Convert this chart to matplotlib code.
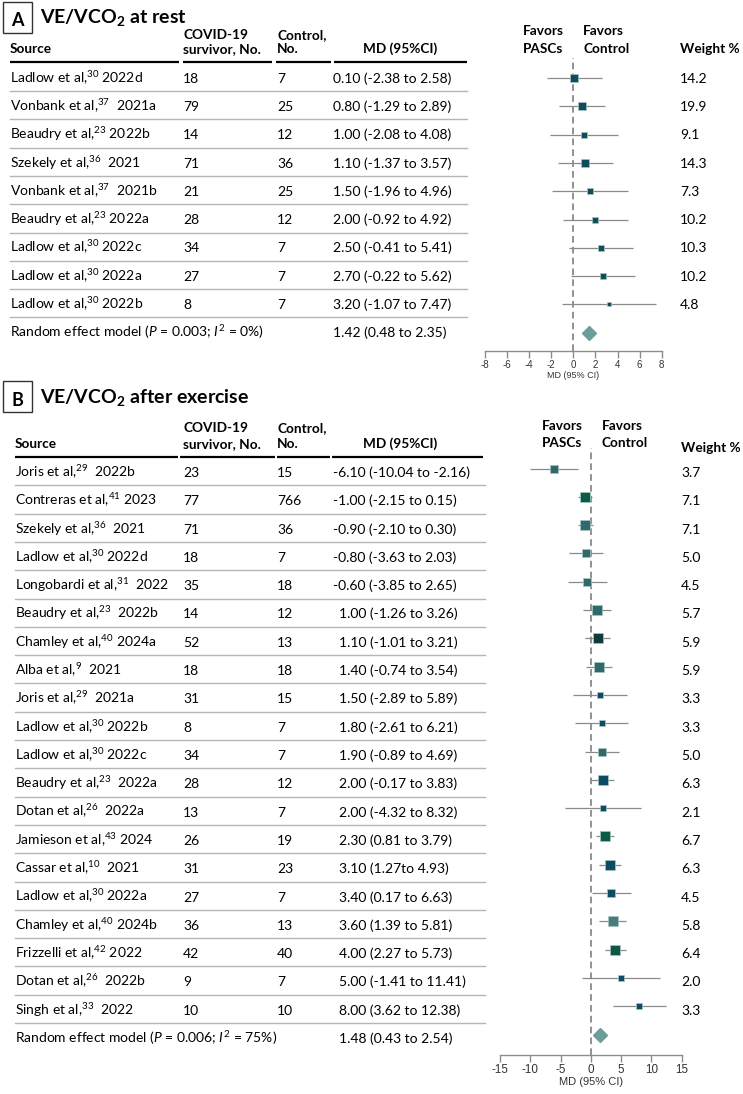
import numpy as np
import matplotlib
matplotlib.use("Agg")
import matplotlib.pyplot as plt
from matplotlib.patches import Rectangle

plt.rcParams['font.family'] = ['Lato', 'DejaVu Sans']
plt.rcParams['mathtext.fontset'] = 'custom'
plt.rcParams['mathtext.rm'] = 'Lato'
plt.rcParams['mathtext.it'] = 'Lato:italic'
plt.rcParams['mathtext.bf'] = 'Lato:bold'
plt.rcParams['mathtext.default'] = 'regular'

# ---------------- Panel A data ----------------
src_A = ["Ladlow et al,$^{30}$ 2022d", "Vonbank et al,$^{37}$  2021a", "Beaudry et al,$^{23}$ 2022b",
         "Szekely et al,$^{36}$  2021", "Vonbank et al,$^{37}$  2021b", "Beaudry et al,$^{23}$ 2022a",
         "Ladlow et al,$^{30}$ 2022c", "Ladlow et al,$^{30}$ 2022a", "Ladlow et al,$^{30}$ 2022b"]
covid_A = [18, 79, 14, 71, 21, 28, 34, 27, 8]
ctrl_A = [7, 25, 12, 36, 25, 12, 7, 7, 7]
md_A = [0.10, 0.80, 1.00, 1.10, 1.50, 2.00, 2.50, 2.70, 3.20]
lo_A = [-2.38, -1.29, -2.08, -1.37, -1.96, -0.92, -0.41, -0.22, -1.07]
hi_A = [2.58, 2.89, 4.08, 3.57, 4.96, 4.92, 5.41, 5.62, 7.47]
w_A = [14.2, 19.9, 9.1, 14.3, 7.3, 10.2, 10.3, 10.2, 4.8]
pool_A = (1.42, 0.48, 2.35)
pool_label_A = r"Random effect model ($\mathit{P}$ = 0.003; $\mathit{I}^{2}$ = 0%)"

# ---------------- Panel B data ----------------
src_B = ["Joris et al,$^{29}$  2022b", "Contreras et al,$^{41}$ 2023", "Szekely et al,$^{36}$  2021",
         "Ladlow et al,$^{30}$ 2022d", "Longobardi et al,$^{31}$  2022", "Beaudry et al,$^{23}$  2022b",
         "Chamley et al,$^{40}$ 2024a", "Alba et al,$^{9}$  2021", "Joris et al,$^{29}$  2021a",
         "Ladlow et al,$^{30}$ 2022b", "Ladlow et al,$^{30}$ 2022c", "Beaudry et al,$^{23}$  2022a",
         "Dotan et al,$^{26}$  2022a", "Jamieson et al,$^{43}$ 2024", "Cassar et al,$^{10}$  2021",
         "Ladlow et al,$^{30}$ 2022a", "Chamley et al,$^{40}$ 2024b", "Frizzelli et al,$^{42}$ 2022",
         "Dotan et al,$^{26}$  2022b", "Singh et al,$^{33}$  2022"]
covid_B = [23, 77, 71, 18, 35, 14, 52, 18, 31, 8, 34, 28, 13, 26, 31, 27, 36, 42, 9, 10]
ctrl_B = [15, 766, 36, 7, 18, 12, 13, 18, 15, 7, 7, 12, 7, 19, 23, 7, 13, 40, 7, 10]
md_B = [-6.10, -1.00, -0.90, -0.80, -0.60, 1.00, 1.10, 1.40, 1.50, 1.80,
        1.90, 2.00, 2.00, 2.30, 3.10, 3.40, 3.60, 4.00, 5.00, 8.00]
lo_B = [-10.04, -2.15, -2.10, -3.63, -3.85, -1.26, -1.01, -0.74, -2.89, -2.61,
        -0.89, -0.17, -4.32, 0.81, 1.27, 0.17, 1.39, 2.27, -1.41, 3.62]
hi_B = [-2.16, 0.15, 0.30, 2.03, 2.65, 3.26, 3.21, 3.54, 5.89, 6.21,
        4.69, 3.83, 8.32, 3.79, 4.93, 6.63, 5.81, 5.73, 11.41, 12.38]
w_B = [3.7, 7.1, 7.1, 5.0, 4.5, 5.7, 5.9, 5.9, 3.3, 3.3,
       5.0, 6.3, 2.1, 6.7, 6.3, 4.5, 5.8, 6.4, 2.0, 3.3]
ci_text_B = ["-6.10 (-10.04 to -2.16)", "-1.00 (-2.15 to 0.15)", "-0.90 (-2.10 to 0.30)",
             "-0.80 (-3.63 to 2.03)", "-0.60 (-3.85 to 2.65)", "1.00 (-1.26 to 3.26)",
             "1.10 (-1.01 to 3.21)", "1.40 (-0.74 to 3.54)", "1.50 (-2.89 to 5.89)",
             "1.80 (-2.61 to 6.21)", "1.90 (-0.89 to 4.69)", "2.00 (-0.17 to 3.83)",
             "2.00 (-4.32 to 8.32)", "2.30 (0.81 to 3.79)", "3.10 (1.27to 4.93)",
             "3.40 (0.17 to 6.63)", "3.60 (1.39 to 5.81)", "4.00 (2.27 to 5.73)",
             "5.00 (-1.41 to 11.41)", "8.00 (3.62 to 12.38)"]
pool_B = (1.48, 0.43, 2.54)
pool_label_B = r"Random effect model ($\mathit{P}$ = 0.006; $\mathit{I}^{2}$ = 75%)"

# styles
TEAL, GREEN, DARK, BLUE, LIGHT = '#2f6a6a', '#0b5a45', '#0e3a3c', '#0c4c62', '#4b7c7b'
col_A = ['#0f4d5d'] * 9
col_B = [TEAL, GREEN, TEAL, TEAL, TEAL, TEAL, DARK, TEAL, BLUE, BLUE,
         TEAL, BLUE, BLUE, GREEN, BLUE, BLUE, LIGHT, GREEN, BLUE, BLUE]
DIAM = '#6b9e99'
CIGREY = '#8a8a8a'

W, H = 743, 1094
fig = plt.figure(figsize=(W / 100, H / 100), dpi=100)
ov = fig.add_axes([0, 0, 1, 1])
ov.set_xlim(0, W)
ov.set_ylim(H, 0)
ov.axis('off')

FS = 10.0
FSH = 9.8


def txt(x, y, s, bold=False, size=None, ha='left'):
    ov.text(x, y, s, ha=ha, va='baseline', fontsize=size or (FSH if bold else FS),
            fontweight='bold' if bold else 'normal')


def panel(letter, title, ytop, tbase, hdr, rows, src, covid, ctrl, ci_txt, weights, pool_label,
          pool_txt, seg, xsrc, xline_end, xmd_pos, xmd_neg, xw, fav, wbase, hline):
    # box & title
    ov.add_patch(Rectangle((3, ytop), 29, 31, fill=False, ec='#333333', lw=1.0))
    ov.text(17.5, tbase + 3, letter, ha='center', va='baseline', fontsize=13, fontweight='bold')
    ov.text(40, tbase, title, ha='left', va='baseline', fontsize=14, fontweight='bold')
    # header
    h1, h2 = hdr
    txt(xsrc, h2, "Source", True)
    txt(183, h1, "COVID-19", True)
    txt(183, h2, "survivor, No.", True)
    txt(277, h1, "Control,", True)
    txt(277, h2, "No.", True)
    txt(400, h2, "MD (95%CI)", True, ha='center')
    fx1, fx2, fy1, fy2 = fav
    txt(fx1, fy1, "Favors", True)
    txt(fx1, fy2, "PASCs", True)
    txt(fx2, fy1, "Favors", True)
    txt(fx2, fy2, "Control", True)
    txt(xw, wbase, "Weight %", True)
    for a, b in seg:
        ov.plot([a, b], [hline, hline], color='black', lw=1.6, solid_capstyle='butt')
    pitch = rows[1] - rows[0]
    n = len(src)
    for i in range(n):
        y = rows[i]
        txt(xsrc, y, src[i])
        txt(183, y, str(covid[i]))
        txt(277, y, str(ctrl[i]))
        t = ci_txt[i]
        txt(xmd_neg if t.startswith('-') else xmd_pos, y, t)
        txt(xw, y, f"{weights[i]:.1f}")
        if i > 0:
            ov.plot([xsrc, xline_end], [y - 20, y - 20], color='#b5b5b5', lw=1.0)
    yp = rows[n]
    ov.plot([xsrc, xline_end], [yp - 20, yp - 20], color='#b5b5b5', lw=1.0)
    txt(xsrc, yp, pool_label)
    txt(xmd_pos, yp, pool_txt)


def forest(xl, xr, xmin, xmax, ytop, yaxis, row0, pitch, md, lo, hi, w, cols, k, pool,
           ticks, tfs, lfs, lab_pad):
    ax = fig.add_axes([xl / W, 1 - yaxis / H, (xr - xl) / W, (yaxis - ytop) / H])
    ax.set_facecolor('none')
    ax.set_xlim(xmin, xmax)
    ax.set_ylim((yaxis - row0) / pitch, (ytop - row0) / pitch)
    for s in ['top', 'left', 'right']:
        ax.spines[s].set_visible(False)
    ax.spines['bottom'].set_color('#8c8c8c')
    ax.spines['bottom'].set_linewidth(1.0)
    ax.set_yticks([])
    ax.set_xticks(ticks)
    ax.set_xticklabels([str(t) for t in ticks], fontfamily='Liberation Sans', fontsize=tfs, color='#333333')
    ax.tick_params(axis='x', length=5, width=1.0, color='#8c8c8c', pad=1.5)
    ax.set_xlabel("MD (95% CI)", fontfamily='Liberation Sans', fontsize=lfs, color='#333333', labelpad=lab_pad)
    ax.axvline(0, color='#7f7f7f', lw=1.2, ls=(0, (4, 2.5)), zorder=1)
    for i in range(len(md)):
        ax.plot([lo[i], hi[i]], [i, i], color=CIGREY, lw=0.9, zorder=2, solid_capstyle='butt')
        ax.plot([md[i]], [i], marker='s', ms=k * np.sqrt(w[i]) * 0.72, color=cols[i],
                mec='#a9c4c2', mew=0.5, zorder=3, ls='none')
    ax.plot([pool[0]], [len(md)], marker='D', ms=7.3, color=DIAM, mec=DIAM, zorder=3, ls='none')
    return ax


PITCH = 28.3
# Panel A layout
rows_A = [82.7 + PITCH * i for i in range(10)]
panel("A", "VE/VCO$_{2}$ at rest", 2, 22.5, (39.3, 53.3), rows_A, src_A, covid_A, ctrl_A,
      [f"{m:.2f} ({l:.2f} to {h:.2f})" for m, l, h in zip(md_A, lo_A, hi_A)], w_A,
      pool_label_A, f"{pool_A[0]:.2f} ({pool_A[1]:.2f} to {pool_A[2]:.2f})",
      [(10, 179), (183, 272), (276, 331), (334, 467)], 10, 467, 333, 333, 680,
      (523, 583, 35, 52.7), 53.3, 61.7)
forest(485, 661.7, -8, 8, 58, 351, 78, PITCH, md_A, lo_A, hi_A, w_A, col_A, 1.9, pool_A,
       list(range(-8, 9, 2)), 7, 6.5, 1)

# Panel B layout
rows_B = [477 + PITCH * i for i in range(21)]
panel("B", "VE/VCO$_{2}$ after exercise", 381, 403, (431.7, 447.7), rows_B, src_B, covid_B, ctrl_B,
      ci_text_B, w_B, pool_label_B, f"{pool_B[0]:.2f} ({pool_B[1]:.2f} to {pool_B[2]:.2f})",
      [(15, 178), (180, 275), (277, 330), (332, 483)], 15, 485, 339, 333, 681,
      (542, 602, 430, 446.7), 451.7, 456.7)
forest(500, 681.7, -15, 15, 448, 1055, 468.5, PITCH, md_B, lo_B, hi_B, w_B, col_B, 3.8, pool_B,
       list(range(-15, 16, 5)), 8.4, 8, 0.5)

fig.savefig("out.png", dpi=100)
